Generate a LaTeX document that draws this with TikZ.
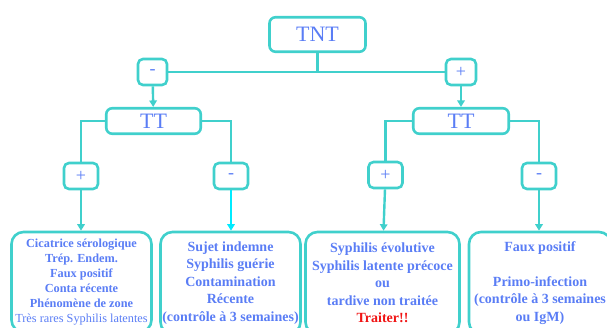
\documentclass[tikz,border=0pt]{standalone}
\usepackage{fontspec}
\setmainfont{Liberation Serif}
\usetikzlibrary{arrows.meta,positioning,calc}
\definecolor{lineteal}{RGB}{64,208,204}
\definecolor{txtblue}{RGB}{90,125,245}
\definecolor{brightcyan}{RGB}{0,235,255}
\definecolor{alertred}{RGB}{240,20,20}
\tikzset{
  blk/.style={draw=lineteal, line width=2.6pt, rounded corners=6pt, rectangle, minimum height=25.5pt, align=center, text=txtblue, font=\fontsize{22}{24}\selectfont},
  sblk/.style={draw=lineteal, line width=2.6pt, rounded corners=5pt, rectangle, minimum width=34pt, minimum height=26pt, text=txtblue, font=\fontsize{18}{20}\selectfont},
  rblk/.style={draw=lineteal, line width=2.6pt, rounded corners=12pt, rectangle, minimum height=102pt, align=center, text=txtblue, inner sep=1pt},
  lnk/.style={draw=lineteal, line width=2.4pt},
  arr/.style={lnk, -{Triangle[length=6.5pt,width=7.5pt]}},
}
\begin{document}
\begin{tikzpicture}[x=1pt, y=-1pt]
\useasboundingbox (0,0) rectangle (607,327);
\clip (0,0) rectangle (607,327);

% TNT and its two outcomes
\node[blk, minimum width=96pt, minimum height=34.5pt] (tnt) at (317.5,34.5) {TNT};
\node[sblk, minimum width=29pt] (tntneg) at (152.5,72) {-};
\node[sblk, minimum width=30pt] (tntpos) at (461,72) {+};

% TT
\node[blk, minimum width=94.5pt] (ttneg) at (153.5,121) {TT};
\node[blk, minimum width=95.5pt] (ttpos) at (461,121) {TT};

% TT outcomes
\node[sblk] (lpos) at (81,176) {+};
\node[sblk] (lneg) at (231,176) {-};
\node[sblk] (rpos) at (385.5,175) {+};
\node[sblk] (rneg) at (539,176) {-};

% Results
\node[rblk, minimum height=100pt, font=\fontsize{12.3}{15}\selectfont\bfseries, minimum width=140pt] (cicatrice) at (81.5,282)
  {Cicatrice sérologique\\Trép. Endem.\\Faux positif\\Conta récente\\Phénomène de zone\\{\mdseries Très rares Syphilis latentes}};
\node[rblk, minimum width=140pt, font=\fontsize{14}{17.5}\selectfont\bfseries] (indemne) at (230.5,283)
  {Sujet indemne\\Syphilis guérie\\Contamination\\Récente\\(contrôle à 3 semaines)};
\node[rblk, minimum width=154pt, font=\fontsize{14}{17.5}\selectfont\bfseries] (evolutive) at (382.5,283)
  {Syphilis évolutive\\Syphilis latente précoce\\ou\\tardive non traitée\\\textcolor{alertred}{Traiter!!}};
\node[rblk, minimum width=142pt, font=\fontsize{14}{17.5}\selectfont\bfseries] (faux) at (540,283)
  {Faux positif\\[17.5pt]Primo-infection\\(contrôle à 3 semaines\\ou IgM)};

% Connectors
\draw[lnk] (tnt.south) -- (tnt.south |- tntneg.east);
\draw[lnk] (tntneg) -- (tntpos);
\draw[arr] (tntneg) -- (ttneg);
\draw[arr] (tntpos) -- (ttpos);
\draw[lnk] (ttneg.west) -| (lpos);
\draw[lnk] (ttneg.east) -| (lneg);
\draw[lnk] (ttpos.west) -| (rpos);
\draw[lnk] (ttpos.east) -| (rneg);
\draw[arr] (lpos) -- (lpos |- cicatrice.north);
\draw[arr, draw=brightcyan, line width=1.5pt] (lneg) -- (lneg |- indemne.north);
\draw[arr] (rpos) -- ([xshift=-2pt]rpos |- evolutive.north);
\draw[arr] (rneg) -- (rneg |- faux.north);

\end{tikzpicture}
\end{document}
